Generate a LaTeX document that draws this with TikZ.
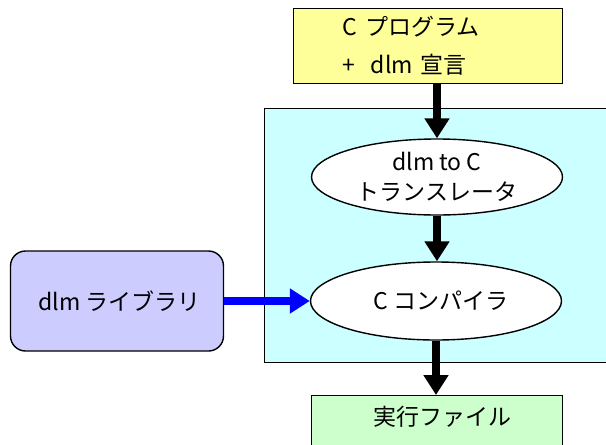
\documentclass[tikz,border=0pt]{standalone}
\usepackage{fontspec}
\setmainfont{Noto Sans CJK JP}
\usetikzlibrary{shapes.geometric, arrows.meta, positioning}
\definecolor{progfill}{HTML}{FFFF99}
\definecolor{toolfill}{HTML}{CCFFFF}
\definecolor{libfill}{HTML}{CCCCFF}
\definecolor{exefill}{HTML}{CCFFCC}

\begin{document}
\begin{tikzpicture}[x=1pt, y=-1pt, font=\fontsize{23}{30}\selectfont,
    frame/.style={draw, line width=1.4pt},
    proc/.style={frame, ellipse, fill=white, minimum width=251pt, minimum height=76pt, inner sep=0pt, align=center},
    flow/.style={line width=8pt, -{Triangle[width=24pt, length=20pt]}}]
    \useasboundingbox (0,0) rectangle (606,445);
    % translator and compiler sit inside one block
    \node[frame, fill=toolfill, anchor=north west, minimum width=346pt, minimum height=254pt] (tool) at (264,108) {};
    \node[frame, fill=progfill, anchor=north west, minimum width=269pt, minimum height=75pt,
          inner xsep=49pt, text width=171pt, align=left, font=\fontsize{23}{38}\selectfont] (prog) at (293,8)
          {C\ プログラム\\+\ \ dlm 宣言};
    \node[proc] (trans) at (437,177) {dlm to C\\トランスレータ};
    \node[proc, minimum height=78pt] (comp) at (436,301) {\ \ C\ コンパイラ};
    \node[frame, fill=libfill, rounded corners=15pt, minimum width=213pt, minimum height=100pt] (lib) at (117,301) {\ dlm ライブラリ};
    \node[frame, fill=exefill, anchor=north, minimum width=251pt, inner ysep=11pt, text height=19pt, text depth=30pt] (exe) at (437,395) {\ \ 実行ファイル};

    \draw[flow] (trans |- prog.south) -- (trans);
    \draw[flow] (trans) -- (trans |- comp.north);
    \draw[flow] (comp) -- (comp |- exe.north);
    \draw[flow, blue] (lib) -- (comp);
\end{tikzpicture}
\end{document}
